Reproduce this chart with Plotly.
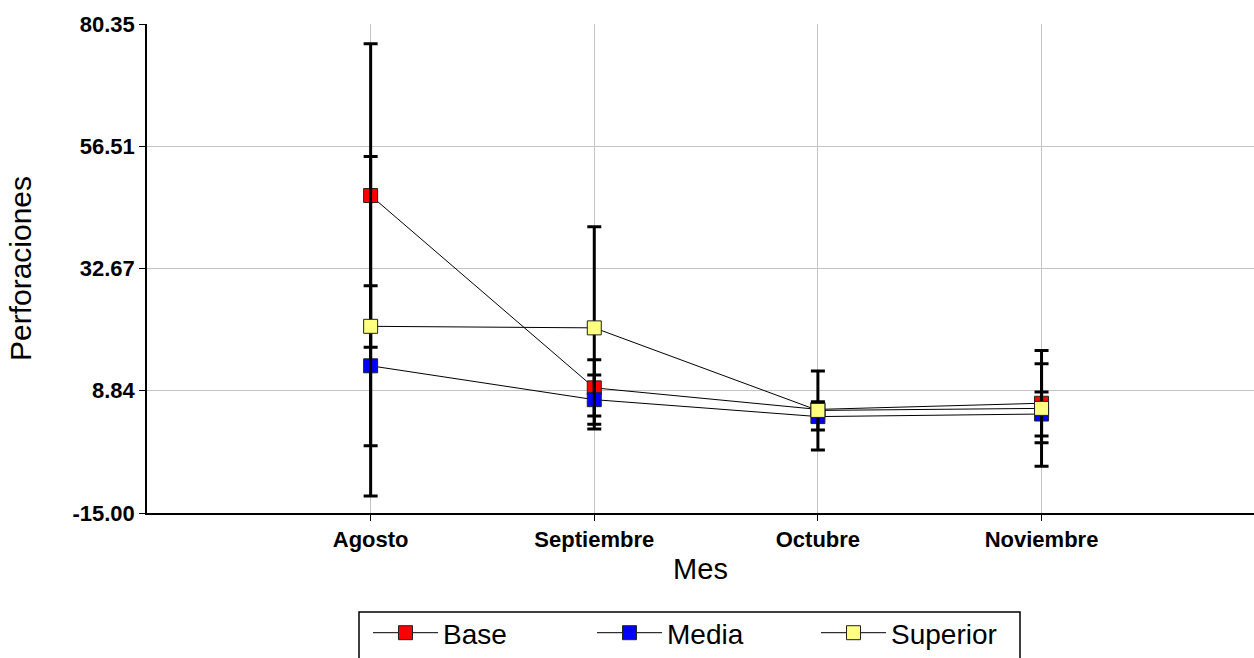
import plotly.graph_objects as go

months = ["Agosto", "Septiembre", "Octubre", "Noviembre"]
x_pos = [1, 2, 3, 4]

base_vals = [46.9, 9.4, 5.2, 6.4]
base_err = [29.6, 5.5, 1.5, 7.7]
media_vals = [13.7, 7.1, 3.8, 4.3]
media_err = [15.6, 4.8, 2.6, 4.3]
sup_vals = [21.4, 21.1, 5.0, 5.4]
sup_err = [33.1, 19.7, 7.7, 11.3]

y_ticks = [-15.00, 8.84, 32.67, 56.51, 80.35]
y_ticktext = ["-15.00", "8.84", "32.67", "56.51", "80.35"]

series = [
    ("Base", base_vals, base_err, "#FF0000"),
    ("Media", media_vals, media_err, "#0000FF"),
    ("Superior", sup_vals, sup_err, "#FFFF80"),
]

fig = go.Figure()
for name, vals, err, col in series:
    fig.add_trace(go.Scatter(
        x=x_pos, y=vals, name=name, mode="lines+markers",
        line=dict(color="black", width=1),
        marker=dict(symbol="square", size=14, color=col,
                    line=dict(color="#222222", width=1)),
        error_y=dict(type="data", array=err, visible=True,
                     color="black", thickness=3, width=7),
    ))

W, H = 1254, 658
ML, MT, MB = 147, 24, 145
plot_w = W - ML
plot_h = H - MT - MB


def px_x(px):
    return (px - ML) / plot_w


def px_y(py):
    return (H - MB - py) / plot_h


font_family = "Liberation Sans, Arial, sans-serif"

# legend frame
fig.add_shape(type="rect", xref="paper", yref="paper",
              x0=px_x(359), x1=px_x(1020), y0=px_y(612), y1=px_y(700),
              line=dict(color="black", width=1.5), fillcolor="white",
              layer="below")

fig.update_layout(
    width=W, height=H,
    margin=dict(l=ML, r=0, t=MT, b=MB, autoexpand=False),
    paper_bgcolor="white", plot_bgcolor="white",
    font=dict(family=font_family, color="black"),
    showlegend=True,
    legend=dict(
        orientation="h", x=px_x(368), xanchor="left", y=px_y(608), yanchor="top",
        borderwidth=0, bgcolor="rgba(0,0,0,0)",
        font=dict(size=28, family=font_family),
        itemwidth=65,
        entrywidth=144, entrywidthmode="pixels",
    ),
    xaxis=dict(
        range=[0, 4.95], tickvals=x_pos, ticktext=months,
        showgrid=True, gridcolor="#C4C4C4", gridwidth=1,
        showline=True, linecolor="black", linewidth=1.5,
        ticks="outside", ticklen=6, tickcolor="black",
        tickfont=dict(size=22, family=font_family, weight="bold"),
        title=dict(text="Mes", font=dict(size=29), standoff=8),
        zeroline=False,
    ),
    yaxis=dict(
        range=[-15.0, 80.35], tickvals=y_ticks, ticktext=y_ticktext,
        showgrid=True, gridcolor="#C4C4C4", gridwidth=1,
        showline=True, linecolor="black", linewidth=1.5,
        ticks="outside", ticklen=6, tickcolor="black",
        tickfont=dict(size=22, family=font_family, weight="bold"),
        title=dict(text="Perforaciones", font=dict(size=30), standoff=32),
        zeroline=False,
    ),
)

fig.write_html(
    "out.html",
    config={"displayModeBar": False},
    post_script="document.body.style.margin='0';document.body.style.overflow='hidden';",
)
